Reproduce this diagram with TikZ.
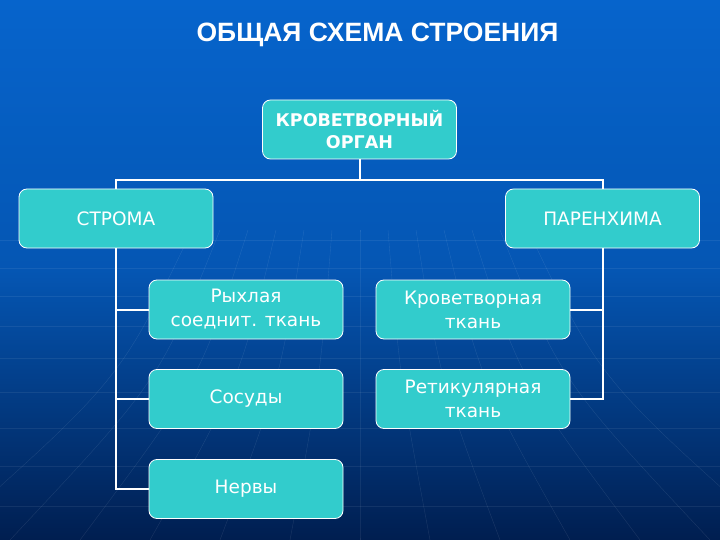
\documentclass[tikz,border=0pt]{standalone}
\usepackage{fontspec}
\setmainfont{DejaVu Sans}
\newfontfamily\titlefont{Liberation Sans}
\usetikzlibrary{positioning}
\definecolor{fonverh}{RGB}{6,100,204}
\definecolor{fonniz}{RGB}{0,30,80}
\definecolor{biruza}{RGB}{50,204,204}
\begin{document}
\begin{tikzpicture}[x=1pt, y=-1pt,
  blok/.style={draw=white, line width=0.8pt, fill=biruza, rounded corners=8pt,
    minimum width=194pt, minimum height=59pt, inner sep=0pt, text=white,
    align=center, font=\fontsize{18.5}{24}\selectfont},
  rama/.style={white, line width=2pt}]
  % fon
  \shade[top color=fonverh, bottom color=fonniz, middle color=fonverh!80!fonniz] (0,0) rectangle (720,540);
  \useasboundingbox (0,0) rectangle (720,540);
  \foreach \y in {240,268,296,326,358,392,428,466,506}
    \draw[white, opacity=0.07] (0,\y) -- (720,\y);
  \foreach \k in {-6,...,6}
    \draw[white, opacity=0.1] (360+\k*28,230) .. controls (360+\k*40,380) .. (360+\k*70,540);

  \node[white, font=\titlefont\bfseries\fontsize{26.5}{30}\selectfont] (zag) at (377.5,35) {ОБЩАЯ СХЕМА СТРОЕНИЯ};

  \node[blok, font=\bfseries\fontsize{17.5}{22}\selectfont] (organ) at (359.5,129.5) {КРОВЕТВОРНЫЙ\\ОРГАН};
  \node[blok] (stroma) at (116,218.5) {СТРОМА};
  \node[blok] (paren) at (602.5,218.5) {ПАРЕНХИМА};

  \node[blok] (ryhl) at (246,309.5) {Рыхлая\\соеднит. ткань};
  \node[blok] (sosud) at (246,399) {Сосуды};
  \node[blok] (nerv) at (246,489) {Нервы};
  \node[blok] (krov) at (473,309.5) {Кроветворная\\ткань};
  \node[blok] (retik) at (473,399) {Ретикулярная\\ткань};

  \coordinate (razv) at (359.5,180);
  \draw[rama] (organ.south) -- (razv);
  \draw[rama] (stroma.north) |- (razv) -| (paren.north);

  \draw[rama] (stroma.south) |- (ryhl.west);
  \draw[rama] (stroma.south) |- (sosud.west);
  \draw[rama] (stroma.south) |- (nerv.west);
  \draw[rama] (paren.south) |- (krov.east);
  \draw[rama] (paren.south) |- (retik.east);
\end{tikzpicture}
\end{document}
